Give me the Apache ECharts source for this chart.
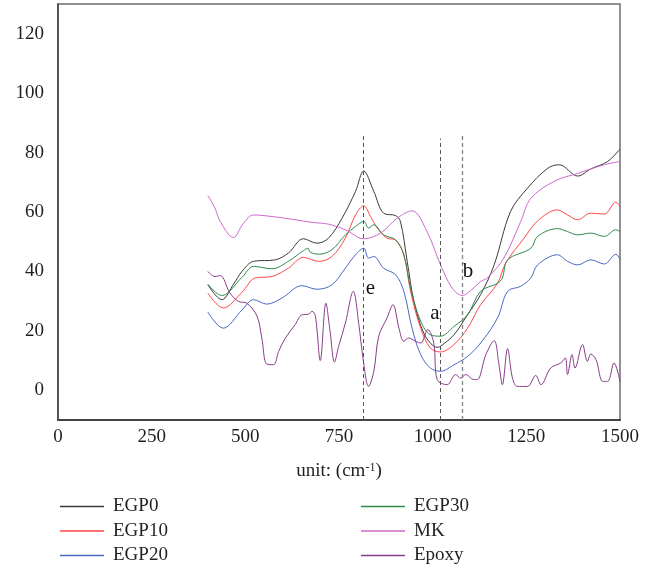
<!DOCTYPE html>
<html>
<head>
<meta charset="utf-8">
<script src="https://cdn.jsdelivr.net/npm/echarts@6/dist/echarts.min.js"></script>
<style>
  html, body { margin: 0; padding: 0; background: #fff; }
  #chart { width: 653px; height: 569px; }
</style>
</head>
<body>
<div id="chart"></div>
<script>
// FTIR spectra, wavenumber (cm^-1) vs transmittance-like value
const xTicks = [0, 250, 500, 750, 1000, 1250, 1500];
const yTicks = [0, 20, 40, 60, 80, 100, 120];

const egp0X = [400, 437, 470, 491, 522, 580, 615, 655, 691, 722, 758, 794, 816, 843, 869, 901, 914, 932, 950, 976, 1003, 1015, 1021, 1057, 1093, 1128, 1164, 1208, 1253, 1307, 1338, 1387, 1422, 1467, 1500];
const egp0Y = [35.5, 30.5, 36, 40, 43.4, 43.9, 46.2, 51, 49.5, 51.2, 57.9, 66.9, 73.8, 66.9, 59.6, 58.8, 56.8, 43.4, 29.9, 19.3, 14.8, 14.5, 14.8, 18.7, 25.4, 32.2, 42.2, 60.2, 68, 74.7, 75.9, 72.1, 74.5, 77, 81.2];

const egp10X = [400, 441, 491, 526, 571, 615, 655, 696, 731, 767, 794, 816, 834, 852, 878, 901, 923, 941, 968, 994, 1021, 1057, 1093, 1128, 1173, 1195, 1244, 1280, 1333, 1360, 1387, 1422, 1458, 1489, 1500];
const egp10Y = [32.7, 27.7, 33, 37.8, 38.3, 41.1, 44.7, 43.4, 45, 51.2, 59, 62.1, 58.5, 54.6, 51.2, 50.6, 45.6, 33.3, 20.9, 14.2, 12.9, 15.4, 20.9, 28.8, 36, 42.8, 51.2, 57, 60.7, 59, 57.4, 59.6, 59.3, 63.3, 61.8];

const egp20X = [400, 441, 491, 522, 557, 597, 651, 691, 731, 767, 794, 816, 829, 843, 869, 901, 923, 945, 968, 994, 1021, 1057, 1093, 1128, 1173, 1200, 1235, 1262, 1280, 1333, 1360, 1387, 1422, 1458, 1489, 1500];
const egp20Y = [26.3, 20.9, 27, 30.5, 29, 31, 35.2, 34, 35.5, 41.1, 45.6, 47.8, 44.5, 45, 41.1, 38.9, 33.3, 20.9, 12, 7.5, 6.4, 8.6, 11.4, 15.9, 24.3, 33.3, 35, 37.8, 42.2, 45.6, 43.4, 42.2, 43.9, 42.5, 45.8, 44];

const egp30X = [400, 437, 491, 522, 571, 615, 655, 667, 673, 696, 731, 767, 794, 816, 829, 843, 869, 901, 923, 941, 968, 994, 1021, 1057, 1093, 1128, 1173, 1186, 1200, 1262, 1280, 1333, 1360, 1387, 1422, 1458, 1489, 1500];
const egp30Y = [35.7, 31.9, 38, 41.7, 40.9, 43.4, 47, 47.8, 46.5, 45.8, 47.3, 52.3, 55.1, 56.8, 54.6, 55.7, 52.3, 50.6, 45.6, 34.4, 23.2, 18.7, 18.2, 21.5, 25.4, 33.3, 36, 37.8, 43.9, 47.8, 51.8, 54.4, 53.4, 52.3, 52.9, 51.8, 54, 53.4];

const mkX = [400, 419, 433, 468, 495, 522, 589, 633, 678, 722, 767, 816, 861, 905, 945, 985, 1021, 1052, 1079, 1101, 1128, 1146, 1190, 1235, 1262, 1324, 1387, 1458, 1500];
const mkY = [65.5, 61.3, 56.8, 51.4, 56.2, 59, 58.2, 57.4, 56.5, 55.9, 54, 51, 52.9, 57.9, 60.4, 53.4, 42.2, 34.4, 31.9, 33.5, 36.6, 37.8, 44.5, 56.8, 64.6, 70.3, 73, 75.9, 77];

const epoxyX = [400, 419, 433, 459, 482, 504, 531, 544, 557, 575, 589, 607, 633, 651, 669, 678, 687, 700, 715, 726, 738, 749, 767, 788, 803, 814, 829, 843, 856, 878, 894, 910, 923, 936, 954, 968, 987, 1003, 1012, 1039, 1061, 1075, 1088, 1110, 1119, 1142, 1164, 1177, 1186, 1200, 1213, 1226, 1253, 1275, 1289, 1315, 1342, 1354, 1360, 1372, 1380, 1400, 1413, 1422, 1436, 1454, 1467, 1484, 1500];
const epoxyY = [40, 38.3, 38.6, 32.7, 29.9, 29.3, 25, 17.6, 8.8, 8.6, 13.1, 17.6, 22.1, 25.4, 25.6, 26.6, 24.9, 10, 29.3, 20, 9.5, 14.8, 22.6, 33.3, 22.1, 10.9, 1.3, 6.4, 18.2, 24.3, 28.8, 20.9, 16.5, 17.6, 16.5, 15.9, 20.4, 15.9, 3.6, 1.9, 5.3, 4.1, 5.3, 3.6, 3.6, 12, 16.7, 8.6, 1.9, 14, 4.1, 1.3, 1.3, 5, 1.9, 7.5, 9.2, 10.9, 5.3, 12, 7.5, 15.4, 9.7, 12.2, 10.3, 3, 3, 9.2, 3];

// reference wavenumbers marked by dashed guides, with their top values
const guideX = [816, 1019, 1080];
const guideTop = [85.7, 84.7, 85.7];

// peak annotations: letter, x, y
const noteText = ['e', 'a', 'b'];
const noteX = [834, 1006, 1094];
const noteY = [34.3, 26, 40];

const FONT = 'Liberation Serif';
const TEXT = '#231f20';

const pairs = (xs, ys) => xs.map((x, i) => [x, ys[i]]);

function spectrum(name, xs, ys, color) {
  return {
    name: name,
    type: 'line',
    data: pairs(xs, ys),
    symbol: 'none',
    smooth: 0.35,
    lineStyle: { color: color, width: 1 },
    itemStyle: { color: color },
    z: 3
  };
}

const legendCommon = {
  orient: 'vertical',
  top: 497,
  padding: 0,
  height: 72,
  itemWidth: 44,
  itemHeight: 12,
  itemGap: 5.5,
  icon: 'path://M0,0 L44,0 L44,1.4 L0,1.4 Z',
  textStyle: { fontFamily: FONT, fontSize: 19, color: TEXT, lineHeight: 19, padding: [0, 0, 0, 4] }
};

const chart = echarts.init(document.getElementById('chart'));
chart.setOption({
  animation: false,
  backgroundColor: '#fff',
  grid: {
    left: 58, right: 33, top: 4, bottom: 149,
    show: true, borderColor: '#6d6d6d', borderWidth: 1.5
  },
  legend: [
    Object.assign({ left: 60, data: ['EGP0', 'EGP10', 'EGP20'] }, legendCommon),
    Object.assign({ left: 361, data: ['EGP30', 'MK', 'Epoxy'] }, legendCommon)
  ],
  xAxis: {
    type: 'value',
    min: xTicks[0], max: xTicks[xTicks.length - 1], interval: 250,
    name: 'unit: (cm{sup|-1})',
    nameLocation: 'middle',
    nameGap: 42,
    nameTextStyle: {
      fontFamily: FONT, fontSize: 19, color: TEXT,
      rich: { sup: { fontFamily: FONT, fontSize: 12, color: TEXT, verticalAlign: 'top', lineHeight: 14 } }
    },
    axisLine: { show: true, onZero: false, lineStyle: { color: '#444', width: 2 } },
    axisTick: { show: false },
    splitLine: { show: false },
    axisLabel: { fontFamily: FONT, fontSize: 19, color: TEXT, margin: 8,
      formatter: v => xTicks.includes(v) ? String(v) : '' }
  },
  yAxis: {
    type: 'value',
    min: -10, max: 130, interval: 10,
    axisLine: { show: true, onZero: false, lineStyle: { color: '#555', width: 2 } },
    axisTick: { show: false },
    splitLine: { show: false },
    axisLabel: { fontFamily: FONT, fontSize: 19, color: TEXT, margin: 14,
      formatter: v => yTicks.includes(v) ? String(v) : '' }
  },
  series: [
    spectrum('EGP0', egp0X, egp0Y, '#3b3b3b'),
    spectrum('EGP10', egp10X, egp10Y, '#ff4747'),
    spectrum('EGP20', egp20X, egp20Y, '#4a68c4'),
    spectrum('EGP30', egp30X, egp30Y, '#2f8a4c'),
    spectrum('MK', mkX, mkY, '#cc6acc'),
    spectrum('Epoxy', epoxyX, epoxyY, '#8a3c8a'),
    {
      name: 'guides',
      type: 'line',
      data: [],
      markLine: {
        silent: true,
        symbol: 'none',
        label: { show: false },
        data: guideX.map((x, i) => [
          { coord: [x, -10], lineStyle: { color: i === 2 ? '#8a8a8a' : '#555', width: i === 2 ? 1.4 : 1, type: [4, 3] } },
          { coord: [x, guideTop[i]] }
        ])
      },
      z: 2
    },
    {
      name: 'notes',
      type: 'scatter',
      symbolSize: 1,
      itemStyle: { color: 'rgba(0,0,0,0)' },
      data: noteX.map((x, i) => ({ value: [x, noteY[i]], name: noteText[i] })),
      label: {
        show: true, position: 'inside',
        formatter: p => p.name,
        fontFamily: FONT, fontSize: 21, color: '#111', opacity: 1,
        textBorderWidth: 0
      },
      labelLayout: { hideOverlap: false },
      z: 5
    }
  ]
});
</script>
</body>
</html>
